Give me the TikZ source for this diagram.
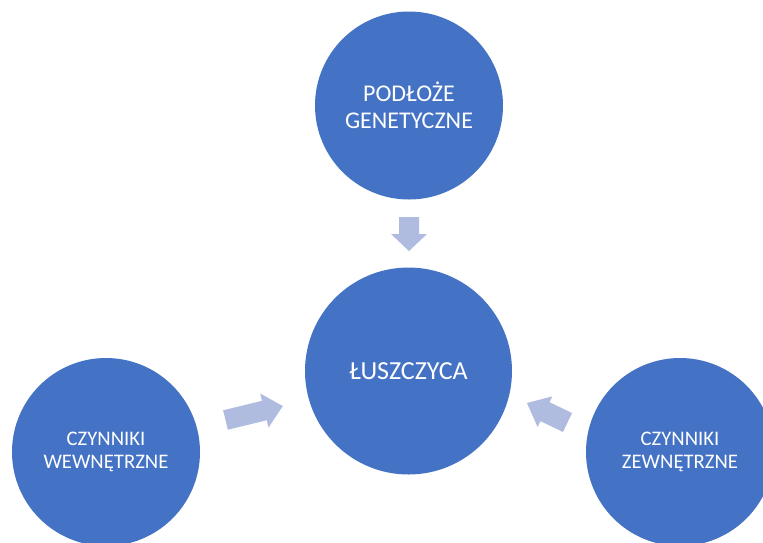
\documentclass[tikz,border=0pt]{standalone}
\usepackage{fontspec}
\setmainfont{Carlito}
\definecolor{circblue}{HTML}{4472C4}
\definecolor{arrowc}{RGB}{175,188,224}
\newcommand\radarrow[7]{%
  % #1 name, #2 tail mid, #3 angle, #4 length, #5 head length, #6 shaft half, #7 head half
  \begin{scope}[shift={(#2)},rotate=#3]
    \coordinate (#1) at (0,0);
    \fill[arrowfill] (0,-#6) -- ({#4-#5},-#6) -- ({#4-#5},-#7) -- (#4,0)
      -- ({#4-#5},#7) -- ({#4-#5},#6) -- (0,#6) -- cycle;
  \end{scope}}
\begin{document}
\begin{tikzpicture}[x=1pt,y=-1pt,
  bubble/.style={circle,fill=circblue,draw=none,inner sep=0pt,text=white,align=center},
  arrowfill/.style={fill=arrowc,draw=none}]
\useasboundingbox (0,0) rectangle (763,542);
\fill[white] (0,0) rectangle (763,542);
\node[bubble,minimum size=188pt,font=\fontsize{24}{27}\selectfont] (gen) at (409,105.5) {PODŁOŻE\\GENETYCZNE};
\node[bubble,minimum size=207pt,font=\fontsize{26}{30}\selectfont] (lus) at (408.5,371) {ŁUSZCZYCA};
\node[bubble,minimum size=188pt,font=\fontsize{20.7}{23}\selectfont] (wew) at (106,452) {CZYNNIKI\\WEWNĘTRZNE};
\node[bubble,minimum size=188pt,font=\fontsize{20.7}{23}\selectfont] (zew) at (680,452) {CZYNNIKI\\ZEWNĘTRZNE};
\radarrow{a1}{409,217}{-90}{34}{17}{10}{18}
\radarrow{a2}{225.5,420}{13.7}{59}{19}{10}{17.5}
\radarrow{a3}{567.5,422.5}{154.3}{45}{20}{10.5}{17}
\end{tikzpicture}
\end{document}
